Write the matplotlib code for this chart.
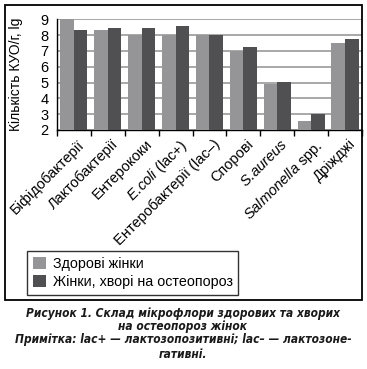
import matplotlib
matplotlib.use("Agg")
import matplotlib.pyplot as plt
import numpy as np
from matplotlib.patches import Rectangle
import matplotlib.transforms as mtransforms

plt.rcParams['font.family'] = ['Liberation Sans', 'DejaVu Sans']
plt.rcParams['mathtext.fontset'] = 'custom'
plt.rcParams['mathtext.rm'] = 'Liberation Sans'
plt.rcParams['mathtext.it'] = 'Liberation Sans:italic'

categories = ["Біфідобактерії", "Лактобактерії", "Ентерококи", r"$\mathit{E.\!coli}$ (lac+)",
              "Ентеробактерії (lac–)", "Спорові", r"$\mathit{S.\!aureus}$",
              r"$\mathit{Salmonella}$ spp.", "Дріжджі"]
healthy = [9.0, 8.3, 8.0, 8.0, 8.0, 7.0, 4.9, 2.55, 7.5]
osteo = [8.3, 8.45, 8.45, 8.6, 8.0, 7.25, 5.02, 3.03, 7.75]
series_names = ["Здорові жінки", "Жінки, хворі на остеопороз"]
yticks = [2, 3, 4, 5, 6, 7, 8, 9]
ylabel = "Кількість КУО/г, lg"
caption1 = "Рисунок 1. Склад мікрофлори здорових та хворих"
caption2 = "на остеопороз жінок"
caption3 = "Примітка: lac+ — лактозопозитивні; lac– — лактозоне-"
caption4 = "гативні."

W, H = 367, 369
fig = plt.figure(figsize=(W / 100, H / 100), dpi=100)
ax = fig.add_axes([57 / W, 1 - 130 / H, (362 - 57) / W, (130 - 19.3) / H])

x = np.arange(len(categories))
bw = 0.4
ax.bar(x - bw / 2, np.array(healthy) - 2, bw, bottom=2, color='#959597', label=series_names[0], zorder=3)
ax.bar(x + bw / 2, np.array(osteo) - 2, bw, bottom=2, color='#505052', label=series_names[1], zorder=3)

ax.set_ylim(2, 9)
ax.set_xlim(-0.5, len(categories) - 0.5)
ax.set_yticks(yticks)
ax.tick_params(axis='y', length=0, labelsize=10.5, pad=6)
ax.yaxis.grid(True, color='#9a9a9a', linewidth=1.2, zorder=0)
ax.set_axisbelow(True)
for s in ['top', 'right']:
    ax.spines[s].set_visible(False)
ax.spines['left'].set_linewidth(1.0)
ax.spines['bottom'].set_linewidth(1.0)

ax.set_xticks(x)
ax.set_xticklabels(categories, rotation=45, ha='right', rotation_mode='anchor', fontsize=10.5)
ax.tick_params(axis='x', which='major', length=0, pad=5)
ax.set_xticks(np.arange(-0.5, len(categories), 1.0), minor=True)
ax.tick_params(axis='x', which='minor', length=4, width=1.0, direction='out')
offset = mtransforms.ScaledTranslation(3 / 100, 0, fig.dpi_scale_trans)
for lbl in ax.get_xticklabels():
    lbl.set_transform(lbl.get_transform() + offset)

ax.set_ylabel(ylabel, fontsize=10)
ax.yaxis.set_label_coords((23 - 57) / (362 - 57), 0.5)

# outer frame
fig.patches.append(Rectangle((5 / W, 1 - 300 / H), (362 - 5) / W, (300 - 5) / H,
                             transform=fig.transFigure, fill=False, edgecolor='black', linewidth=1.3))

leg = fig.legend(loc='upper left', bbox_to_anchor=(27 / W, 1 - 251 / H), fontsize=10.3,
                 frameon=True, fancybox=False, edgecolor='black', handlelength=0.9,
                 handleheight=0.9, handletextpad=0.5, borderpad=0.4, labelspacing=0.3,
                 borderaxespad=0)
leg.get_frame().set_linewidth(1.0)

capfont = dict(family=['DejaVu Sans'], stretch='condensed', style='italic', weight='bold', fontsize=8.6,
               ha='center', va='center', color='#1a1a1a')
fig.text(183 / W, 1 - 313 / H, caption1, **capfont)
fig.text(183 / W, 1 - 326.5 / H, caption2, **capfont)
fig.text(183 / W, 1 - 340 / H, caption3, **capfont)
fig.text(183 / W, 1 - 354 / H, caption4, **capfont)

fig.savefig("out.png", dpi=100)
